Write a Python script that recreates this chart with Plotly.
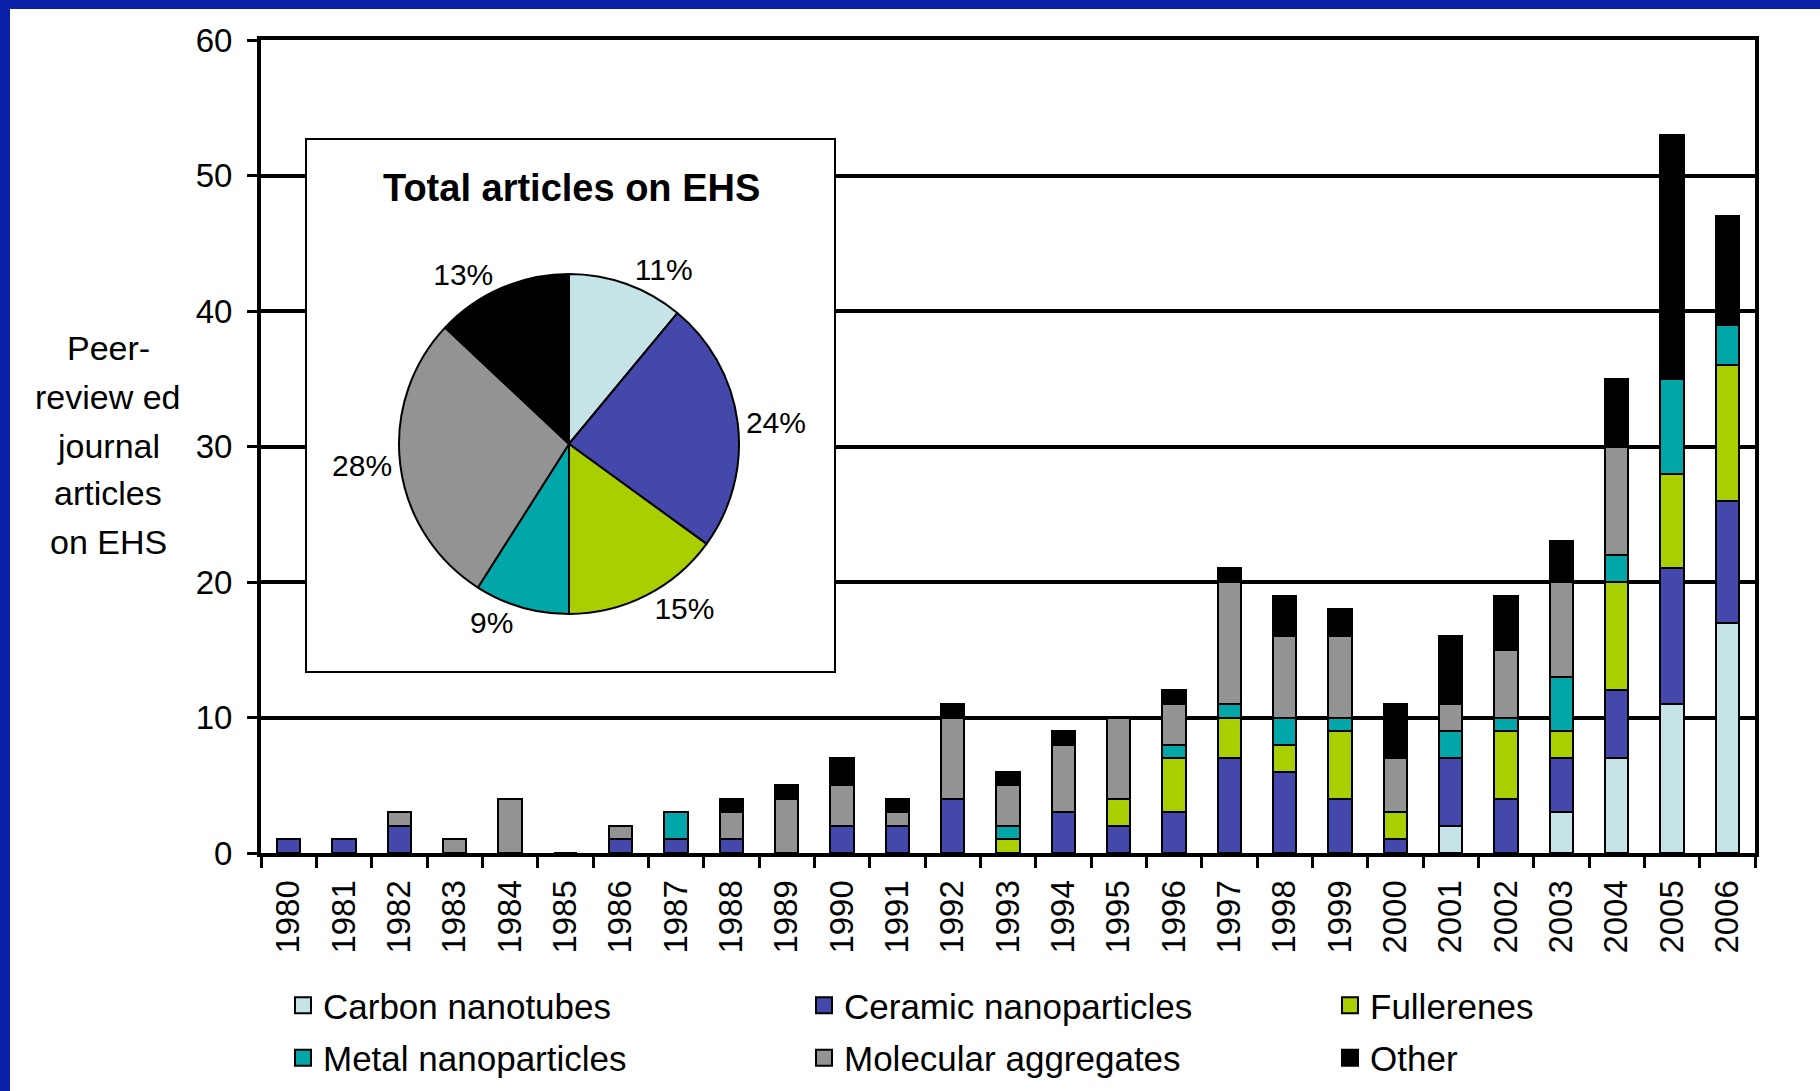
import plotly.graph_objects as go

# ---------------- data ----------------
years = [str(y) for y in range(1980, 2007)]

series_names = ["Carbon nanotubes", "Ceramic nanoparticles", "Fullerenes",
                "Metal nanoparticles", "Molecular aggregates", "Other"]

#            1980 81 82 83 84 85 86 87 88 89 90 91 92 93 94 95 96 97 98 99 00 01 02 03 04 05 06
carbon     = [0, 0, 0, 0, 0, 0, 0, 0, 0, 0, 0, 0, 0, 0, 0, 0, 0, 0, 0, 0, 0, 2, 0, 3, 7, 11, 17]
ceramic    = [1, 1, 2, 0, 0, 0, 1, 1, 1, 0, 2, 2, 4, 0, 3, 2, 3, 7, 6, 4, 1, 5, 4, 4, 5, 10, 9]
fullerenes = [0, 0, 0, 0, 0, 0, 0, 0, 0, 0, 0, 0, 0, 1, 0, 2, 4, 3, 2, 5, 2, 0, 5, 2, 8, 7, 10]
metal      = [0, 0, 0, 0, 0, 0, 0, 2, 0, 0, 0, 0, 0, 1, 0, 0, 1, 1, 2, 1, 0, 2, 1, 4, 2, 7, 3]
molecular  = [0, 0, 1, 1, 4, 0, 1, 0, 2, 4, 3, 1, 6, 3, 5, 6, 3, 9, 6, 6, 4, 2, 5, 7, 8, 0, 0]
other      = [0, 0, 0, 0, 0, 0, 0, 0, 1, 1, 2, 1, 1, 1, 1, 0, 1, 1, 3, 2, 4, 5, 4, 3, 5, 18, 8]

pie_values = [11, 24, 15, 9, 28, 13]
pie_title = "Total articles on EHS"

y_tick_vals = [0, 10, 20, 30, 40, 50, 60]
y_title_lines = ["Peer-", "review ed", "journal", "articles", "on EHS"]

colors = ["#C6E4E8", "#4448AA", "#AACF00", "#00A6A8", "#939393", "#000000"]

# ---------------- layout geometry ----------------
W, H = 1820, 1091
ML, MR, MT, MB = 261, 65, 40, 238
PW = W - ML - MR
PH = H - MT - MB
YMAX = 60
FONT = "Liberation Sans, Arial, sans-serif"
NCAT = len(years)


def px_x(px):
    return (px - ML) / PW


def px_y(py):
    return (H - MB - py) / PH


def cat_x(px):
    return (px - ML) / (PW / NCAT) - 0.5


def val_y(py):
    return (H - MB - py) / PH * YMAX


fig = go.Figure()

series = [carbon, ceramic, fullerenes, metal, molecular, other]
for name, vals, col in zip(series_names, series, colors):
    fig.add_trace(go.Bar(
        x=years, y=vals, name=name, showlegend=False,
        marker=dict(color=col, line=dict(color="black", width=2)),
    ))

# legend entries (three columns of two)
legend_ids = ["legend", "legend2", "legend3", "legend", "legend2", "legend3"]
for i, (name, col) in enumerate(zip(series_names, colors)):
    fig.add_trace(go.Scatter(
        x=[None], y=[None], mode="markers", name=name,
        marker=dict(symbol="square", size=16, color=col,
                    line=dict(color="black", width=2)),
        legend=legend_ids[i], legendgroup=name, showlegend=True,
    ))

# pie inset
cx, cy, r = 569, 444, 170
fig.add_trace(go.Pie(
    labels=series_names, values=pie_values, sort=False,
    direction="clockwise", rotation=0,
    marker=dict(colors=colors, line=dict(color="black", width=2)),
    textinfo="percent", textposition="outside",
    textfont=dict(family=FONT, size=30, color="black"),
    showlegend=False,
    domain=dict(x=[px_x(cx - r), px_x(cx + r)], y=[px_y(cy + r), px_y(cy - r)]),
))

legend_common = dict(
    orientation="v", xanchor="left", yanchor="top",
    xref="container", yref="container",
    font=dict(family=FONT, size=35, color="black"),
    traceorder="grouped", tracegroupgap=4, itemwidth=30,
    bgcolor="rgba(0,0,0,0)",
)
LEG_TOP = 976

fig.update_layout(
    template="plotly_white",
    width=W, height=H,
    margin=dict(l=ML, r=MR, t=MT, b=MB, pad=0, autoexpand=False),
    paper_bgcolor="white", plot_bgcolor="white",
    barmode="stack", bargap=0.58,
    font=dict(family=FONT, color="black"),
    legend=dict(x=283 / W, y=1 - LEG_TOP / H, **legend_common),
    legend2=dict(x=804 / W, y=1 - LEG_TOP / H, **legend_common),
    legend3=dict(x=1330 / W, y=1 - LEG_TOP / H, **legend_common),
    xaxis=dict(
        type="category", tickson="boundaries", ticks="outside",
        ticklen=11, tickwidth=3, tickcolor="black", automargin=False,
        showline=True, linecolor="black", linewidth=4, mirror=True,
        showgrid=False, zeroline=False, tickangle=-90, ticklabelstandoff=10,
        tickfont=dict(family=FONT, size=33, color="black"),
    ),
    yaxis=dict(
        range=[0, YMAX], tickvals=y_tick_vals, ticks="outside",
        ticklen=10, tickwidth=3, tickcolor="black", automargin=False,
        showline=True, linecolor="black", linewidth=4, mirror=True,
        showgrid=True, gridcolor="black", gridwidth=4, zeroline=False,
        ticklabelstandoff=8,
        tickfont=dict(family=FONT, size=33, color="black"),
    ),
)

# blue frame on top and left
fig.add_shape(type="rect", xref="paper", yref="paper", layer="below",
              x0=px_x(0), x1=px_x(W), y0=px_y(9), y1=px_y(0),
              fillcolor="#0A1FA8", line=dict(width=0))
fig.add_shape(type="rect", xref="paper", yref="paper", layer="below",
              x0=px_x(0), x1=px_x(10), y0=px_y(H), y1=px_y(0),
              fillcolor="#0A1FA8", line=dict(width=0))

# inset frame (above gridlines, below data)
fig.add_shape(type="rect", xref="x", yref="y", layer="between",
              x0=cat_x(306), x1=cat_x(835), y0=val_y(672), y1=val_y(139),
              fillcolor="white", line=dict(color="black", width=2))

fig.add_annotation(text="<b>" + pie_title + "</b>", xref="paper", yref="paper",
                   x=px_x(571), y=px_y(188), showarrow=False,
                   xanchor="center", yanchor="middle",
                   font=dict(family=FONT, size=38, color="black"))

y_title_pos = [348, 397, 446, 493, 542]
for line, py in zip(y_title_lines, y_title_pos):
    fig.add_annotation(text=line, xref="paper", yref="paper",
                       x=px_x(108), y=px_y(py), showarrow=False,
                       xanchor="center", yanchor="middle",
                       font=dict(family=FONT, size=34, color="black"))

fig.write_html("out.html", config={"displayModeBar": False},
               post_script="document.body.style.margin='0';document.body.style.overflow='hidden';")
